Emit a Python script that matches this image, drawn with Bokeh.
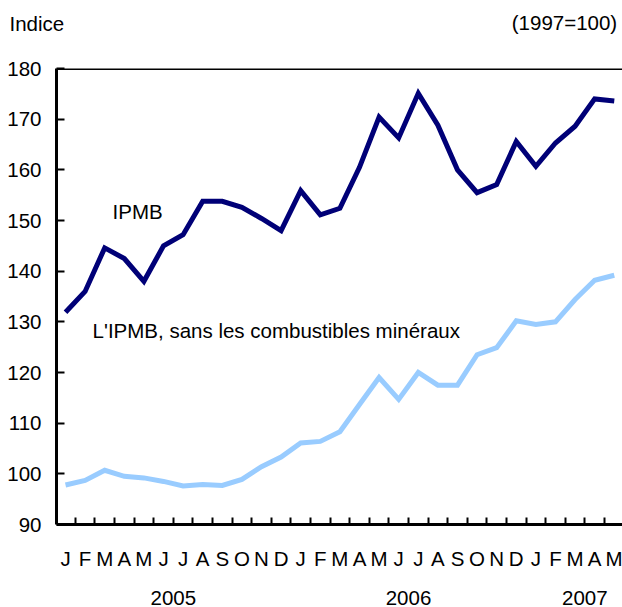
from bokeh.plotting import figure
from bokeh.models import FixedTicker, LinearAxis, Range1d, Span, Label, ColumnDataSource
from bokeh.embed import file_html
from bokeh.resources import INLINE

# ---- data ----
months = ["J", "F", "M", "A", "M", "J", "J", "A", "S", "O", "N", "D",
          "J", "F", "M", "A", "M", "J", "J", "A", "S", "O", "N", "D",
          "J", "F", "M", "A", "M"]
years = ["2005", "2006", "2007"]
year_pos = [5.5, 17.5, 26.5]
ipmb = [131.9, 136.0, 144.6, 142.5, 138.0, 145.0, 147.2, 153.8, 153.8, 152.6, 150.4, 148.0,
        155.9, 151.1, 152.4, 160.5, 170.4, 166.3, 175.1, 168.8, 160.0, 155.5, 157.1, 165.6,
        160.7, 165.3, 168.6, 174.0, 173.6]
ipmb_sans = [97.8, 98.7, 100.7, 99.5, 99.2, 98.5, 97.6, 97.9, 97.7, 98.9, 101.4, 103.3,
             106.1, 106.4, 108.3, 113.7, 119.0, 114.7, 120.0, 117.5, 117.5, 123.5, 124.9, 130.2,
             129.5, 130.0, 134.4, 138.2, 139.2]
y_ticks = [90, 100, 110, 120, 130, 140, 150, 160, 170, 180]
unit_note = "(1997=100)"
unit_note_pos = 26

FONT = "Liberation Sans"
FS = "20.5px"
NAVY = "#000077"
LIGHT = "#99ccff"

x = list(range(len(months)))
src = ColumnDataSource(dict(x=x, ipmb=ipmb, sans=ipmb_sans))

p = figure(width=622, height=607,
           x_range=Range1d(-0.46, 28.42), y_range=Range1d(90, 180),
           output_backend="svg", toolbar_location=None,
           x_axis_location=None, y_axis_location=None,
           min_border_left=56, min_border_right=0, min_border_top=68, min_border_bottom=82)
p.outline_line_color = None
p.xgrid.visible = False
p.ygrid.visible = False
p.background_fill_color = "white"
p.border_fill_color = "white"

# header: unit note as a label-only axis above the frame
hdr = LinearAxis(ticker=FixedTicker(ticks=[unit_note_pos]))
hdr.major_label_overrides = {unit_note_pos: unit_note}
hdr.axis_line_color = None
hdr.major_tick_line_color = None
hdr.minor_tick_line_color = None
hdr.major_tick_in = 0
hdr.major_tick_out = 0
hdr.major_label_text_font = FONT
hdr.major_label_text_font_size = FS
hdr.major_label_text_color = "black"
hdr.major_label_standoff = 35
p.add_layout(hdr, "above")

# header: "Indice" as the plot title (outermost panel)
p.title.text = "Indice"
p.title.align = "left"
p.title.offset = -47
p.title.standoff = -55
p.title.vertical_align = "bottom"
p.title.text_font = FONT
p.title.text_font_size = FS
p.title.text_font_style = "normal"
p.title.text_color = "black"

# y axis
yax = LinearAxis(ticker=FixedTicker(ticks=y_ticks))
yax.axis_line_width = 3
yax.axis_line_color = "black"
yax.major_tick_in = 8
yax.major_tick_out = 0
yax.major_tick_line_width = 2
yax.minor_tick_line_color = None
yax.major_label_text_font = FONT
yax.major_label_text_font_size = FS
yax.major_label_text_color = "black"
yax.major_label_standoff = 15
p.add_layout(yax, "left")

# month axis
xax = LinearAxis(ticker=FixedTicker(ticks=x, minor_ticks=[i + 0.5 for i in range(len(months) - 1)]))
xax.major_label_overrides = {i: m for i, m in enumerate(months)}
xax.axis_line_width = 3
xax.axis_line_color = "black"
xax.major_tick_in = 0
xax.major_tick_out = 0
xax.major_tick_line_color = None
xax.minor_tick_in = 7
xax.minor_tick_out = 0
xax.minor_tick_line_width = 2
xax.minor_tick_line_color = "black"
xax.major_label_text_font = FONT
xax.major_label_text_font_size = FS
xax.major_label_text_color = "black"
xax.major_label_standoff = 22
p.add_layout(xax, "below")

# year axis
yrax = LinearAxis(ticker=FixedTicker(ticks=year_pos))
yrax.major_label_overrides = {pos: yr for pos, yr in zip(year_pos, years)}
yrax.axis_line_color = None
yrax.major_tick_line_color = None
yrax.minor_tick_line_color = None
yrax.major_tick_in = 0
yrax.major_tick_out = 0
yrax.major_label_text_font = FONT
yrax.major_label_text_font_size = FS
yrax.major_label_text_color = "black"
yrax.major_label_text_line_height = 0.9
yrax.major_label_standoff = 18
p.add_layout(yrax, "below")

# top border line
p.add_layout(Span(location=180, dimension="width", line_color="black", line_width=3))

# lines
p.line("x", "ipmb", source=src, line_color=NAVY, line_width=5, line_join="miter")
p.line("x", "sans", source=src, line_color=LIGHT, line_width=5, line_join="miter")

# series labels
p.add_layout(Label(x=2.4, y=151.8, text="IPMB", text_font=FONT, text_font_size=FS,
                   text_color="black", text_baseline="middle", text_align="left"))
p.add_layout(Label(x=1.38, y=128.3, text="L'IPMB, sans les combustibles minéraux", text_font=FONT,
                   text_font_size=FS, text_color="black", text_baseline="middle", text_align="left"))

open("out.html", "w").write(file_html(p, INLINE))
